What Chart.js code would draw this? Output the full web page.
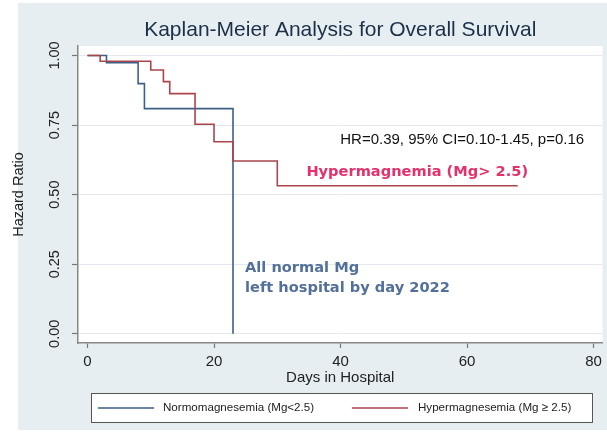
<!DOCTYPE html>
<html>
<head>
<meta charset="utf-8">
<script src="https://cdn.jsdelivr.net/npm/chart.js@4.4.1/dist/chart.umd.min.js"></script>
<style>
  html, body { margin: 0; padding: 0; background: #fff; }
</style>
</head>
<body>
<canvas id="myChart" width="607" height="433"></canvas>
<script>
// Kaplan-Meier steps (day, survival)
const normDays = [0, 3, 8, 9, 23];
const normSurv = [1.0, 0.974, 0.899, 0.809, 0];
const hyperDays = [0, 2, 10, 12, 13, 17, 20, 23, 30, 68];
const hyperSurv = [1.0, 0.979, 0.948, 0.906, 0.863, 0.753, 0.690, 0.621, 0.532, 0.532];

const xTicks = [0, 20, 40, 60, 80];
const yTicks = [0, 0.25, 0.5, 0.75, 1];
const seriesLabels = ['Normomagnesemia (Mg<2.5)', 'Hypermagnesemia (Mg \u2265 2.5)'];
const chartTitle = 'Kaplan-Meier Analysis for Overall Survival';
const xTitle = 'Days in Hospital';
const yTitle = 'Hazard Ratio';
const statText = 'HR=0.39, 95% CI=0.10-1.45, p=0.16';
const hyperNote = 'Hypermagnemia (Mg> 2.5)';
const normNote = ['All normal Mg', 'left hospital by day 2022'];

const blue = '#3b5f87';
const red = '#aa454c';
const sans = '"Liberation Sans", Arial, sans-serif';

function toPoints(days, vals) {
  return days.map((d, i) => ({x: d, y: vals[i]}));
}

const frame = {
  id: 'frame',
  beforeDraw(chart) {
    const {ctx, chartArea: a} = chart;
    ctx.save();
    ctx.fillStyle = '#fff';
    ctx.fillRect(0, 0, chart.width, chart.height);
    ctx.fillStyle = '#e6eef1';
    ctx.fillRect(18, 3, chart.width - 18, 427);
    ctx.fillStyle = '#fff';
    ctx.fillRect(a.left, a.top, a.right - a.left, a.bottom - a.top);
    ctx.restore();
  },
  afterDraw(chart) {
    const {ctx, chartArea: a, scales: {x, y}} = chart;
    ctx.save();
    // title
    ctx.fillStyle = '#1b2f48';
    ctx.font = '21px ' + sans;
    ctx.textAlign = 'center';
    ctx.textBaseline = 'middle';
    ctx.fillText(chartTitle, (a.left + a.right) / 2, 30);

    // annotations
    ctx.textBaseline = 'alphabetic';
    ctx.font = '15px ' + sans;
    ctx.fillStyle = '#111';
    ctx.textAlign = 'right';
    ctx.fillText(statText, x.getPixelForValue(78.5), y.getPixelForValue(0.681));

    ctx.font = 'bold 14.6px "DejaVu Sans", sans-serif';
    ctx.textAlign = 'left';
    ctx.fillStyle = '#e5306b';
    ctx.fillText(hyperNote, x.getPixelForValue(34.6), y.getPixelForValue(0.567));
    ctx.fillStyle = '#52709a';
    normNote.forEach((t, i) => {
      ctx.fillText(t, x.getPixelForValue(24.9), y.getPixelForValue(0.221 - i * 0.07));
    });

    // legend
    ctx.fillStyle = '#fff';
    ctx.fillRect(91, 393, 501, 29);
    ctx.strokeStyle = '#555';
    ctx.lineWidth = 1;
    ctx.strokeRect(91.5, 393.5, 501, 29);
    const items = [{x0: 98, x1: 154, tx: 163}, {x0: 352, x1: 408, tx: 418}];
    ctx.font = '11.6px ' + sans;
    ctx.textBaseline = 'middle';
    chart.data.datasets.forEach((ds, i) => {
      const it = items[i];
      ctx.strokeStyle = ds.borderColor;
      ctx.lineWidth = 1.5;
      ctx.beginPath();
      ctx.moveTo(it.x0, 408);
      ctx.lineTo(it.x1, 408);
      ctx.stroke();
      ctx.fillStyle = '#222';
      ctx.fillText(ds.label, it.tx, 408);
    });
    ctx.restore();
  }
};

const ctx = document.getElementById('myChart');
const kmChart = new Chart(ctx, {
  type: 'line',
  data: {
    datasets: [
      {
        label: seriesLabels[0],
        data: toPoints(normDays, normSurv),
        borderColor: blue,
        borderWidth: 1.6,
        stepped: 'before',
        pointRadius: 0,
        fill: false,
        order: 1
      },
      {
        label: seriesLabels[1],
        data: toPoints(hyperDays, hyperSurv),
        borderColor: red,
        borderWidth: 1.6,
        stepped: 'before',
        pointRadius: 0,
        fill: false,
        order: 0
      }
    ]
  },
  options: {
    responsive: false,
    animation: false,
    layout: { padding: { top: 46, bottom: 46, left: 0, right: 2 } },
    plugins: {
      legend: { display: false },
      title: { display: false },
      tooltip: { enabled: false }
    },
    scales: {
      x: {
        type: 'linear',
        min: -1.5,
        max: 81.4,
        afterBuildTicks: s => { s.ticks = xTicks.map(v => ({value: v})); },
        afterFit: s => { s.height = 44; },
        grid: { drawOnChartArea: false, drawTicks: true, tickLength: 5, tickColor: '#777', tickWidth: 1.2 },
        border: { color: '#888', width: 1.5 },
        ticks: { color: '#222', font: { size: 15, family: sans }, padding: 5, maxRotation: 0 },
        title: { display: true, text: xTitle, color: '#222', font: { size: 15, family: sans }, padding: 0 }
      },
      y: {
        type: 'linear',
        min: -0.033,
        max: 1.034,
        afterBuildTicks: s => { s.ticks = yTicks.map(v => ({value: v})); },
        afterFit: s => { s.width = 78; },
        grid: { color: '#e3e9ed', lineWidth: 1, drawTicks: true, tickLength: 6, tickColor: '#777', tickWidth: 1.2 },
        border: { color: '#888', width: 1.5 },
        ticks: {
          color: '#222', font: { size: 14.5, family: sans }, padding: 3,
          minRotation: 90, maxRotation: 90, crossAlign: 'center',
          callback: v => v.toFixed(2)
        },
        title: { display: true, text: yTitle, color: '#222', font: { size: 14.5, family: sans }, padding: { top: 10 } }
      }
    }
  },
  plugins: [frame]
});
</script>
</body>
</html>
